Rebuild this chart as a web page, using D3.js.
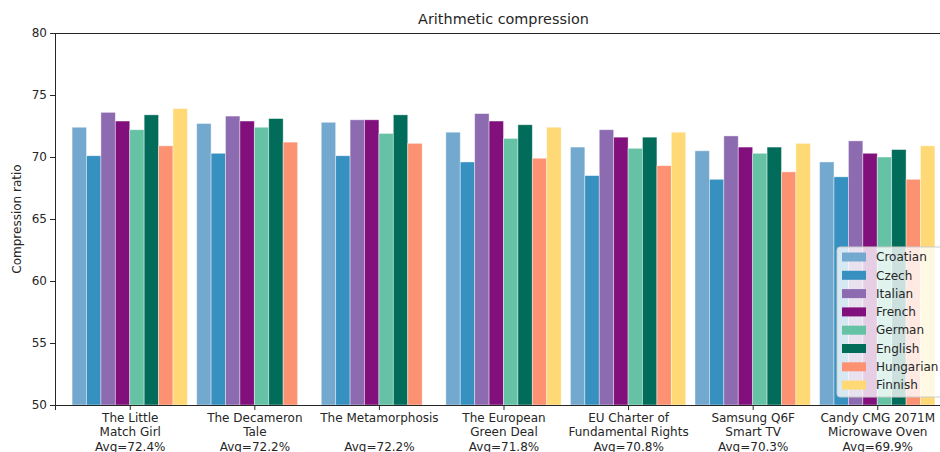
<!DOCTYPE html>
<html>
<head>
<meta charset="utf-8">
<script src="https://cdn.jsdelivr.net/npm/d3@7"></script>
<style>
  body { margin: 0; background: #fff; }
  text { font-family: "DejaVu Sans", sans-serif; fill: #262626; }
  .domain, .tick line { stroke: #262626; }
</style>
</head>
<body>
<div id="chart"></div>
<script>
// data
const texts = [
  ["The Little", "Match Girl"],
  ["The Decameron", "Tale"],
  ["The Metamorphosis", ""],
  ["The European", "Green Deal"],
  ["EU Charter of", "Fundamental Rights"],
  ["Samsung Q6F", "Smart TV"],
  ["Candy CMG 2071M", "Microwave Oven"]
];
const avgLabels = ["Avg=72.4%", "Avg=72.2%", "Avg=72.2%", "Avg=71.8%", "Avg=70.8%", "Avg=70.3%", "Avg=69.9%"];
const languages = ["Croatian", "Czech", "Italian", "French", "German", "English", "Hungarian", "Finnish"];

const croatian  = [72.4, 72.7, 72.8, 72.0, 70.8, 70.5, 69.6];
const czech     = [70.1, 70.3, 70.1, 69.6, 68.5, 68.2, 68.4];
const italian   = [73.6, 73.3, 73.0, 73.5, 72.2, 71.7, 71.3];
const french    = [72.9, 72.9, 73.0, 72.9, 71.6, 70.8, 70.3];
const german    = [72.2, 72.4, 71.9, 71.5, 70.7, 70.3, 70.0];
const english   = [73.4, 73.1, 73.4, 72.6, 71.6, 70.8, 70.6];
const hungarian = [70.9, 71.2, 71.1, 69.9, 69.3, 68.8, 68.2];
const finnish   = [73.9, null, null, 72.4, 72.0, 71.1, 70.9];

const series = [croatian, czech, italian, french, german, english, hungarian, finnish];
const yTicks = [50, 55, 60, 65, 70, 75, 80];

// setup
const width = 940, height = 452;
const margin = {top: 33, left: 55, bottom: 47};
const barWidth = 0.1157;

const svg = d3.select("#chart").append("svg")
    .attr("width", width)
    .attr("height", height);

const colourScale = d3.scaleOrdinal()
    .domain(languages)
    .range(["#74a9cf", "#3690c0", "#8c6bb1", "#810f7c", "#66c2a4", "#016c59", "#fc9272", "#fed976"]);

const x = d3.scaleLinear().domain([-0.6, 6.6]).range([margin.left, 952]);
const y = d3.scaleLinear().domain([50, 80]).range([height - margin.bottom - 0, margin.top]);

// bars
series.forEach((vals, j) => {
  svg.append("g")
    .selectAll("rect")
    .data(vals.map((v, i) => ({i, v})).filter(d => d.v != null))
      .enter()
    .append("rect")
      .attr("x", d => x(d.i + (j - 3.5) * barWidth - barWidth / 2))
      .attr("width", x(barWidth) - x(0))
      .attr("y", d => y(d.v))
      .attr("height", d => y(50) - y(d.v))
      .attr("fill", colourScale(languages[j]))
      .attr("stroke", "rgba(255,255,255,0.5)")
      .attr("stroke-width", 0.8);
});

// axes
svg.append("g")
    .attr("transform", `translate(${margin.left},0)`)
    .call(d3.axisLeft(y).tickValues(yTicks).tickSize(5).tickPadding(3))
    .call(g => g.selectAll("text").attr("font-size", 12));

const xAxis = svg.append("g")
    .attr("transform", `translate(0,${y(50)})`)
    .call(d3.axisBottom(x).tickValues(d3.range(7)).tickSize(5).tickFormat(""));

xAxis.selectAll(".tick").each(function(i) {
  const t = d3.select(this).append("text")
      .attr("text-anchor", "middle")
      .attr("font-size", 12)
      .attr("y", 17);
  texts[i].concat([avgLabels[i]]).forEach((line, k) => {
    t.append("tspan").attr("x", 0).attr("dy", k === 0 ? 0 : "1.2em").text(line || "\u00a0");
  });
});

svg.append("line")
    .attr("x1", margin.left).attr("x2", 952)
    .attr("y1", margin.top + 0.5).attr("y2", margin.top + 0.5)
    .attr("stroke", "#262626");

// titles
svg.append("text")
    .text("Arithmetic compression")
    .attr("x", (margin.left + 952) / 2)
    .attr("y", 24)
    .attr("text-anchor", "middle")
    .attr("font-size", 14.4);

svg.append("text")
    .text("Compression ratio")
    .attr("transform", `translate(21,${y(65)}) rotate(-90)`)
    .attr("text-anchor", "middle")
    .attr("font-size", 12);

// legend
const legend = svg.append("g").attr("transform", "translate(837,247)");

legend.append("rect")
    .attr("width", 130).attr("height", 150)
    .attr("rx", 3)
    .attr("fill", "rgba(255,255,255,0.8)")
    .attr("stroke", "#cccccc");

const item = legend.selectAll("g.item")
  .data(languages)
    .enter()
  .append("g")
    .attr("class", "item")
    .attr("transform", (d, k) => `translate(5,${10 + k * 18.3})`);

item.append("rect")
    .attr("width", 24).attr("height", 9)
    .attr("y", -4.5)
    .attr("fill", d => colourScale(d));

item.append("text")
    .text(d => d)
    .attr("x", 34)
    .attr("dy", "0.35em")
    .attr("font-size", 12);
</script>
</body>
</html>
